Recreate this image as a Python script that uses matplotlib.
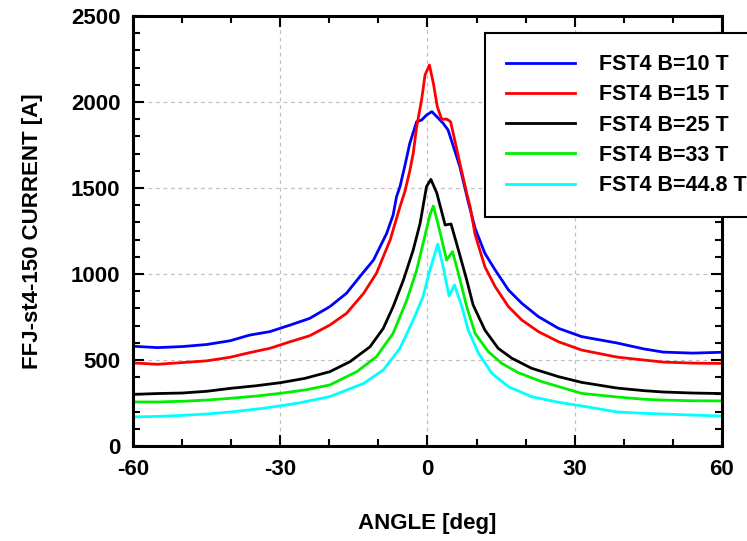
import numpy as np
import matplotlib
matplotlib.use('Agg')
import matplotlib.pyplot as plt

plt.rcParams['font.family'] = ['Liberation Sans Narrow', 'Liberation Sans', 'DejaVu Sans']
plt.rcParams['font.weight'] = 'bold'
plt.rcParams['axes.unicode_minus'] = False

# FST4 B=10 T
ang_10 = [-60, -55, -50, -45, -40.2, -36.2, -32.1, -28, -24, -19.9, -16.5, -13.8, -11, -8.3, -7, -6.3,
          -5.6, -4.6, -3.6, -2.2, -1.2, -0.2, 0.9, 1.9, 3.2, 4.2, 5.3, 6.6, 8.3, 9.7, 11.7, 13.8,
          16.5, 19.2, 22.6, 26.7, 31.4, 38.6, 44, 48, 54, 60]
cur_10 = [580, 572, 578, 590, 612, 645, 665, 703, 742, 810, 888, 984, 1081, 1237, 1343, 1450,
          1508, 1630, 1760, 1886, 1895, 1924, 1944, 1915, 1876, 1837, 1740, 1624, 1420, 1266, 1120, 1023,
          907, 830, 752, 684, 636, 599, 565, 546, 540, 545]

# FST4 B=15 T
ang_15 = [-60, -55, -50, -45, -40.2, -36.2, -32.1, -28, -24, -19.9, -16.5, -13, -10.4, -7.6, -5.6,
          -4.6, -3.6, -2.9, -2.2, -1.2, -0.5, 0.4, 1.2, 2.0, 2.9, 3.9, 4.7, 5.4, 6.6, 8.0, 8.7, 9.7,
          11.7, 13.8, 16.5, 19.2, 22.6, 26.7, 31.4, 38.6, 44, 48, 54, 60]
cur_15 = [483, 475, 485, 495, 516, 543, 568, 606, 641, 703, 771, 888, 1004, 1198, 1391,
          1480, 1600, 1702, 1857, 2012, 2157, 2215, 2109, 1973, 1899, 1901, 1886, 1798, 1644, 1470, 1390, 1230,
          1042, 926, 810, 733, 665, 606, 558, 517, 500, 488, 482, 480]

# FST4 B=25 T
ang_25 = [-60, -55, -50, -45, -40.2, -35, -30, -25, -19.9, -15.8, -11.7, -9, -7, -4.9, -2.9, -1.5,
          -0.2, 0.7, 1.9, 3.6, 4.8, 6.3, 8.0, 9.3, 11.7, 14.4, 17.2, 21.2, 26.7, 31.4, 38.6, 44, 48,
          54, 60]
cur_25 = [300, 305, 308, 318, 335, 350, 368, 393, 432, 490, 577, 684, 810, 965, 1140, 1295,
          1508, 1550, 1471, 1285, 1291, 1140, 965, 820, 674, 568, 510, 452, 403, 370, 337, 322, 314,
          308, 305]

# FST4 B=33 T
ang_33 = [-60, -55, -50, -45, -40.2, -35, -30, -24.5, -19.9, -14.4, -10.4, -7, -4.2, -2.2, -0.9, 0.5,
          1.2, 2.1, 3.9, 5.1, 6.3, 8.0, 9.7, 12.4, 15.1, 18.5, 23.3, 31.4, 38.6, 44, 48, 54, 60]
cur_33 = [256, 256, 260, 267, 277, 290, 306, 328, 355, 432, 519, 655, 849, 1023, 1178, 1343,
          1395, 1297, 1081, 1130, 1004, 810, 655, 548, 481, 426, 374, 306, 285, 272, 267, 263, 262]

# FST4 B=44.8 T
ang_448 = [-60, -55, -50, -45, -40, -33.5, -26.6, -19.9, -13, -9, -5.6, -2.9, -0.9, 0.5, 2.1, 3.2,
           4.4, 5.5, 7.0, 8.3, 10.4, 13.1, 16.5, 21.2, 26.7, 31.4, 38.6, 44, 48, 54, 60]
cur_448 = [169, 172, 178, 186, 198, 219, 248, 287, 364, 442, 568, 733, 868, 1023, 1174, 1041,
           872, 936, 810, 674, 539, 423, 345, 287, 254, 233, 198, 190, 186, 180, 174]

series = [
    (ang_10, cur_10, 'blue', 'FST4 B=10 T'),
    (ang_15, cur_15, 'red', 'FST4 B=15 T'),
    (ang_25, cur_25, 'black', 'FST4 B=25 T'),
    (ang_33, cur_33, '#00ee00', 'FST4 B=33 T'),
    (ang_448, cur_448, 'cyan', 'FST4 B=44.8 T'),
]

fig = plt.figure(figsize=(7.47, 5.41), dpi=100)
ax = fig.add_axes([0.178, 0.1756, 0.7885, 0.7948])

for a, c, col, lab in series:
    ax.plot(a, c, color=col, lw=2.0, label=lab)

ax.set_xlim(-60, 60)
ax.set_ylim(0, 2500)
ax.set_xticks([-60, -30, 0, 30, 60])
ax.set_xticks(np.arange(-60, 61, 10), minor=True)
ax.set_yticks(np.arange(0, 2501, 500))
ax.set_yticks(np.arange(0, 2501, 100), minor=True)
ax.grid(True, which='major', color='#c0c0c0', linestyle=(0, (3, 3)), lw=0.9)

ax.tick_params(which='both', direction='in', top=True, right=True, width=1.5)
ax.tick_params(which='major', length=8, labelsize=16, pad=9)
ax.tick_params(which='minor', length=5)
for sp in ax.spines.values():
    sp.set_linewidth(2.2)

ax.set_xlabel('ANGLE [deg]', fontsize=16, fontweight='bold', labelpad=24)
ax.set_ylabel('FFJ-st4-150 CURRENT [A]', fontsize=16, fontweight='bold', labelpad=20)

# legend frame runs off the right edge, same as the original
leg = ax.legend(loc='upper left', bbox_to_anchor=(0.5976, 0.9605), fontsize=15.5, frameon=True,
                fancybox=False, edgecolor='black', handlelength=3.2, handletextpad=1.1,
                labelspacing=0.43, borderpad=0.98, borderaxespad=0.0)
leg.get_frame().set_linewidth(1.5)
leg.get_frame().set_alpha(1)
for t in leg.get_texts():
    t.set_fontweight('bold')

fig.savefig('out.png', dpi=100)
